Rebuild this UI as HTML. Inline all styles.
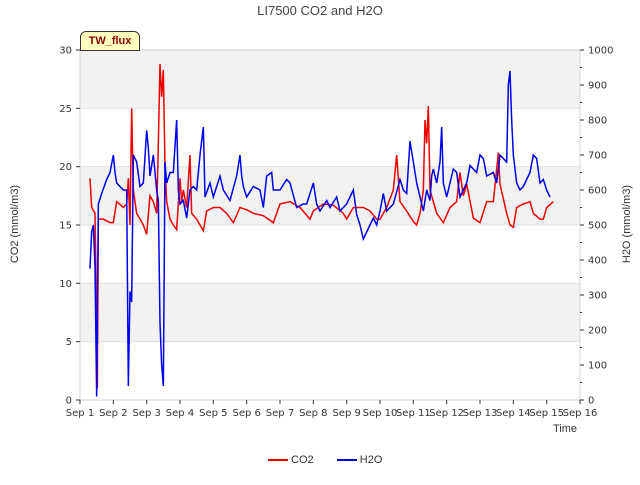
<!DOCTYPE html>
<html><head><meta charset="utf-8"><style>
body{margin:0;background:#fff;font-family:"Liberation Sans","DejaVu Sans",sans-serif}
svg text{font-family:"DejaVu Sans","Liberation Sans",sans-serif}
</style></head><body>
<svg id="c" width="640" height="480" xmlns="http://www.w3.org/2000/svg"></svg>
<script>
const co2Days=[0.3,0.35,0.45,0.5,0.52,0.55,0.7,0.9,1.0,1.1,1.3,1.4,1.45,1.5,1.55,1.6,1.7,1.8,1.9,2.0,2.1,2.2,2.3,2.35,2.4,2.45,2.5,2.55,2.6,2.7,2.8,2.9,3.0,3.05,3.1,3.2,3.3,3.35,3.5,3.7,3.8,4.0,4.2,4.4,4.6,4.8,5.0,5.2,5.5,5.8,6.0,6.3,6.6,6.9,7.0,7.3,7.6,7.9,8.0,8.2,8.5,8.7,8.9,9.0,9.2,9.4,9.5,9.6,9.8,10.0,10.1,10.2,10.3,10.35,10.4,10.45,10.5,10.7,10.9,11.1,11.3,11.4,11.5,11.6,11.8,12.0,12.2,12.4,12.55,12.6,12.8,12.9,13.0,13.1,13.3,13.5,13.6,13.8,13.9,14.0,14.2];
const co2Vals=[19,16.5,16,7,1,15.5,15.5,15.2,15.2,17,16.5,16.8,19,15,25,18,16,15.5,15,14.2,17.5,17,16,22,28.8,26,28.3,20,17,15.5,15,14.6,19,17,18,16.5,21,16,15.5,14.5,16.2,16.5,16.5,16,15.2,16.5,16.3,16,15.8,15.2,16.8,17,16.5,15.5,16.2,16.8,16.7,16,15.5,16.5,16.5,16.2,15.5,15.5,16.5,18,21,17,16.2,15.3,15,16,18,24,22,25.2,18,16,15.2,16.5,17,19.5,17.5,18.5,15.6,15.2,17,17,21.2,18.5,16,15,14.8,16.5,16.8,17,16,15.5,15.5,16.5,17];
const h2oDays=[0.3,0.35,0.4,0.45,0.5,0.55,0.65,0.8,0.9,1.0,1.05,1.1,1.3,1.4,1.45,1.5,1.55,1.6,1.7,1.8,1.9,2.0,2.05,2.1,2.2,2.3,2.35,2.4,2.45,2.5,2.55,2.6,2.7,2.8,2.9,2.95,3.0,3.1,3.2,3.3,3.4,3.5,3.6,3.7,3.75,3.9,4.0,4.1,4.2,4.3,4.5,4.7,4.8,4.85,4.9,5.0,5.2,5.4,5.5,5.6,5.75,5.8,6.0,6.2,6.3,6.5,6.7,6.8,7.0,7.1,7.2,7.4,7.5,7.7,7.8,8.0,8.2,8.3,8.4,8.5,8.7,8.8,8.9,9.0,9.1,9.2,9.4,9.6,9.7,9.8,9.9,10.0,10.1,10.2,10.3,10.4,10.5,10.55,10.6,10.7,10.8,10.85,10.9,11.0,11.1,11.2,11.3,11.4,11.5,11.6,11.7,11.8,11.9,12.0,12.1,12.2,12.4,12.5,12.6,12.7,12.8,12.85,12.9,12.95,13.0,13.1,13.2,13.3,13.5,13.6,13.7,13.8,13.9,14.0,14.1];
const h2oVals=[375,480,500,380,10,560,590,630,650,700,650,620,600,600,40,310,280,700,680,610,620,770,720,640,700,600,570,220,100,40,680,620,650,650,800,600,560,570,520,600,610,600,700,780,580,620,580,610,640,600,570,640,700,640,610,580,610,600,550,640,650,600,600,630,620,550,560,560,620,560,540,570,550,580,540,560,600,530,500,460,500,520,500,540,590,540,560,630,600,590,740,680,620,580,540,600,570,640,660,620,680,780,620,580,620,660,650,580,600,620,670,660,650,700,690,640,650,620,700,690,680,900,940,800,700,620,600,610,650,700,690,620,630,600,580];
const xTicks=["Sep 1","Sep 2","Sep 3","Sep 4","Sep 5","Sep 6","Sep 7","Sep 8","Sep 9","Sep 10","Sep 11","Sep 12","Sep 13","Sep 14","Sep 15","Sep 16"];
const yLeftTicks=[0,5,10,15,20,25,30];
const yRightTicks=[0,100,200,300,400,500,600,700,800,900,1000];
const NS="http://www.w3.org/2000/svg",svg=document.getElementById('c');
const L=80,R=580,T=50,B=400;
const x=d=>L+d*(R-L)/15, yl=v=>B-v*(B-T)/30, yr=v=>B-v*(B-T)/1000;
function mk(t,a,p){const e=document.createElementNS(NS,t);for(const k in a)e.setAttribute(k,a[k]);(p||svg).appendChild(e);return e;}
// bands
[[25,30],[15,20],[5,10]].forEach(b=>{const r=mk('rect',{x:L,y:yl(b[1]),width:R-L,height:yl(b[0])-yl(b[1]),fill:'#f2f2f2'});

});
yLeftTicks.forEach(v=>{mk('line',{x1:L,x2:R,y1:yl(v),y2:yl(v),stroke:'#dddddd','stroke-width':0.8});});
const fr=mk('rect',{x:L,y:T,width:R-L,height:B-T,fill:'none',stroke:'#cccccc','stroke-width':0.8});
// x ticks
xTicks.forEach((s,i)=>{mk('line',{x1:x(i),x2:x(i),y1:B,y2:B+4,stroke:'#333'});
const t=mk('text',{x:x(i),y:B+16,'font-size':10,'text-anchor':'middle',fill:'#333'});t.textContent=s;

});
yLeftTicks.forEach(v=>{mk('line',{x1:L-4,x2:L,y1:yl(v),y2:yl(v),stroke:'#333'});
const t=mk('text',{x:L-8,y:yl(v)+3.5,'font-size':10,'text-anchor':'end',fill:'#333'});t.textContent=v;

});
yRightTicks.forEach(v=>{mk('line',{x1:R,x2:R+4,y1:yr(v),y2:yr(v),stroke:'#333'});
if(v<1000)mk('line',{x1:R,x2:R+2,y1:yr(v+50),y2:yr(v+50),stroke:'#333'});
const t=mk('text',{x:R+8,y:yr(v)+3.5,'font-size':10,'text-anchor':'start',fill:'#333'});t.textContent=v;

});
// series
const pc=mk('polyline',{points:co2Days.map((d,i)=>x(d)+','+yl(co2Vals[i])).join(' '),fill:'none',stroke:'#ee0000','stroke-width':1.5});


const ph=mk('polyline',{points:h2oDays.map((d,i)=>x(d)+','+yr(h2oVals[i])).join(' '),fill:'none',stroke:'#0000ee','stroke-width':1.5});


</script>
<div style="position:absolute;left:0;top:0;width:640px;height:480px;pointer-events:none">
<div style="position:absolute;top:3px;width:640px;text-align:center;font-size:13px;color:#444">LI7500 CO2 and H2O</div>
<div style="position:absolute;left:80px;top:31px;width:58px;height:18px;background:#ffffc0;border:1px solid #333;border-radius:6px 6px 0 0;font-size:11px;font-weight:bold;color:#8b0000;text-align:center;line-height:18px">TW_flux</div>
<div style="position:absolute;left:-30px;top:218px;width:90px;text-align:center;font-size:11px;color:#333;transform:rotate(-90deg)">CO2 (mmol/m3)</div>
<div style="position:absolute;left:582px;top:218px;width:90px;text-align:center;font-size:11px;color:#333;transform:rotate(-90deg)">H2O (mmol/m3)</div>
<div style="position:absolute;left:553px;top:423px;font-size:11px;color:#333">Time</div>
<div style="position:absolute;left:268px;top:454px;font-size:11px;color:#333">
<span><span style="display:inline-block;width:20px;border-top:2px solid #ee0000;vertical-align:middle"></span> CO2</span>
<span style="margin-left:20px"><span style="display:inline-block;width:20px;border-top:2px solid #0000ee;vertical-align:middle"></span> H2O</span>
</div></div>
</body></html>
